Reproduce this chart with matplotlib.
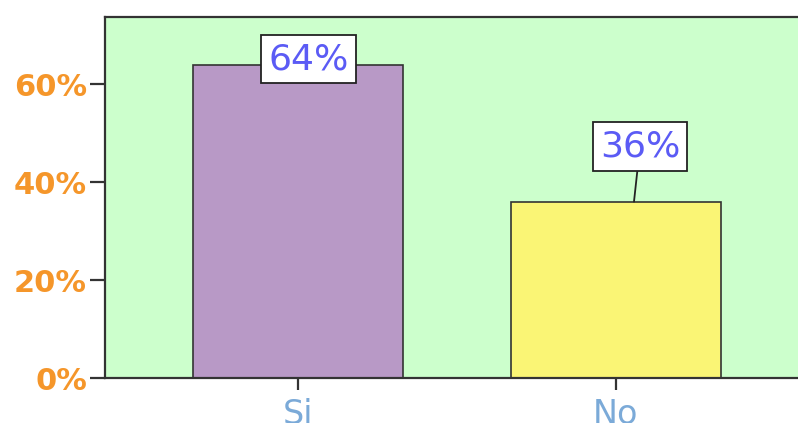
import matplotlib
matplotlib.use("Agg")
import matplotlib.pyplot as plt
from matplotlib.ticker import FuncFormatter

# Survey answers and their shares (percent)
categories = ["Si", "No"]
shares = [64, 36]
bar_colors = ["#B899C6", "#FAF575"]
y_ticks = [0, 20, 40, 60]

W, H, DPI = 798, 423, 100
fig = plt.figure(figsize=(W / DPI, H / DPI), dpi=DPI)
ax = fig.add_axes([105 / W, 1 - 378 / H, 1 - 105 / W + 0.01, (378 - 17) / H])
ax.set_facecolor("#CCFFCC")

x = list(range(len(categories)))
ax.bar(x, shares, width=0.662, color=bar_colors, edgecolor="#333333",
       linewidth=1.2, zorder=2)

ax.set_xlim(-0.609, 1.60)
ax.set_ylim(0, 73.7)

ax.set_yticks(y_ticks)
ax.yaxis.set_major_formatter(FuncFormatter(lambda v, _: f"{v:.0f}%"))
ax.set_xticks(x)
ax.set_xticklabels(categories)

for lbl in ax.get_yticklabels():
    lbl.set_color("#F5962A")
    lbl.set_fontweight("bold")
    lbl.set_fontsize(22)
for lbl in ax.get_xticklabels():
    lbl.set_color("#7BAAD8")
    lbl.set_fontsize(24)

ax.tick_params(axis="y", length=11, width=1.6, color="#333333", pad=2)
ax.tick_params(axis="x", length=8.6, width=1.6, color="#333333", pad=6)

for side in ("left", "top", "bottom"):
    ax.spines[side].set_linewidth(1.6)
    ax.spines[side].set_color("#333333")
ax.spines["right"].set_visible(False)

# Value callouts: (anchor offset on bar top, label position offsets)
anchor_dx = [0.033, 0.058]
label_dx = [0.033, 0.077]
label_dy = [1.1, 11.3]
for i, v in enumerate(shares):
    ax.annotate(f"{v}%", xy=(i + anchor_dx[i], v),
                xytext=(i + label_dx[i], v + label_dy[i]),
                textcoords="data", ha="center", va="center",
                fontsize=26, color="#5B5BF5",
                bbox=dict(boxstyle="square,pad=0.2", fc="white",
                          ec="#222222", lw=1.3),
                arrowprops=dict(arrowstyle="-", color="#222222", lw=1.3,
                                shrinkA=0, shrinkB=0),
                zorder=4)

fig.savefig("out.png", dpi=DPI)
